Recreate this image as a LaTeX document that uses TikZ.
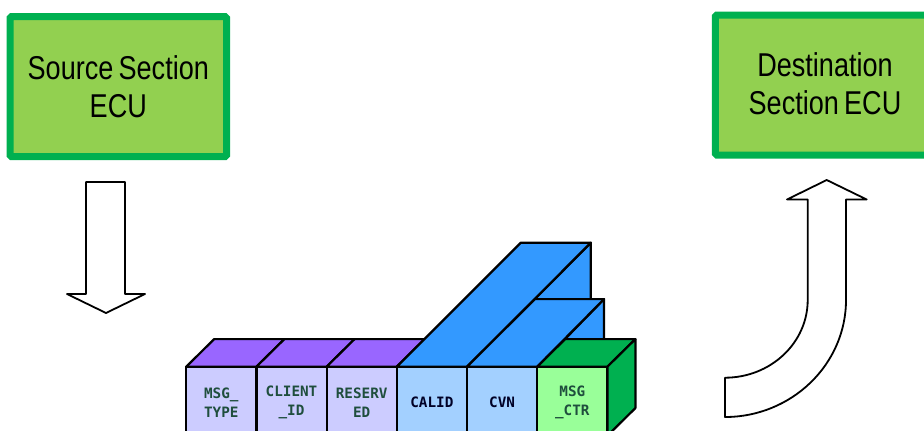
\documentclass[tikz,border=0pt]{standalone}
\usepackage{fontspec}
\usetikzlibrary{positioning}
\newfontfamily\boxfont[FakeStretch=0.82,WordSpace=0.7]{Liberation Sans}
\newfontfamily\cellfont{DejaVu Sans Mono}
\definecolor{ecufill}{HTML}{92D050}
\definecolor{ecuedge}{HTML}{00B050}
\definecolor{hdrfront}{HTML}{CCCCFF}
\definecolor{hdrtop}{HTML}{9966FF}
\definecolor{calfront}{HTML}{A3D0FF}
\definecolor{caltop}{HTML}{3399FF}
\definecolor{ctrfront}{HTML}{99FF99}
\definecolor{celltext}{HTML}{1F4E3D}
\begin{document}
\begin{tikzpicture}[x=1pt,y=-1pt,
ecu/.style={draw=ecuedge,fill=ecufill,line width=7pt,rounded corners=1.5pt,
    minimum height=140pt,align=center,text=black,
    font=\boxfont\fontsize{33}{37.5}\selectfont},
cell/.style={draw=black,line width=2.2pt,minimum width=70.2pt,minimum height=71.6pt,
    outer sep=0pt,inner sep=0pt,align=center,
    font=\cellfont\bfseries\fontsize{14.3}{19}\selectfont},
face/.style={draw=black,line width=2.2pt,line join=round},
blockarrow/.style={draw=black,fill=white,line width=1.8pt,line join=round}
]
\clip (0,0) rectangle (924,431);
\useasboundingbox (0,0) rectangle (924,431);

\node[ecu,minimum width=216.5pt] (source) at (118.3,86.6) {\raisebox{1.5pt}{Source Section}\\\raisebox{1pt}{ECU}};
\node[ecu,minimum width=219.5pt] (dest) at (825,85) {\raisebox{2.5pt}{Destination}\\\raisebox{2pt}{Section ECU}};

% hollow arrows
\draw[blockarrow] (86,182) -- (125,182) -- (125,294) -- (145,294) -- (106,313)
    -- (67,294) -- (86,294) -- cycle;
\draw[blockarrow] (826.7,180) -- (866.7,199.5) -- (846,199.5) -- (846,300)
    .. controls (846,364.5) and (791.5,417) .. (725,417)
    -- (725,377.7)
    .. controls (770.5,377.7) and (807.7,343) .. (807.7,300)
    -- (807.7,199.5) -- (787,199.5) -- cycle;

% message cells
\node[cell,fill=hdrfront,text=celltext] (msgtype) at (221.3,402.5) {MSG\_\\TYPE};
\node[cell,fill=hdrfront,text=celltext,right=0pt of msgtype] (clientid) {CLIENT\\\_ID};
\node[cell,fill=hdrfront,text=celltext,right=0pt of clientid] (reserved) {RESERV\\ED};
\node[cell,fill=calfront,text=black!85!blue,right=0pt of reserved] (calid) {CALID};
\node[cell,fill=calfront,text=black!85!blue,right=0pt of calid] (cvn) {CVN};
\node[cell,fill=ctrfront,text=celltext,right=0pt of cvn] (msgctr) {MSG\\\_CTR};

\foreach \c in {msgtype,clientid,reserved}
    \draw[face,fill=hdrtop] (\c.north west) -- ++(28,-27.6) -- ++(70.2,0)
        -- (\c.north east) -- cycle;

\draw[face,fill=caltop] (calid.north west) ++(194,-124) -- ++(0,56.4) -- ++(-56,0) -- cycle;
\draw[face,fill=caltop] (calid.north west) -- ++(124,-124) -- ++(70,0)
    -- (calid.north east) -- cycle;
\draw[face,fill=caltop] (cvn.north west) ++(137,-67.6) -- ++(0,40) -- ++(-39,0) -- cycle;
\draw[face,fill=caltop] (cvn.north west) -- ++(68,-67.6) -- ++(69,0)
    -- (cvn.north east) -- cycle;

\draw[face,fill=ecuedge] (msgctr.north west) -- ++(28,-27.6) -- ++(70.2,0)
    -- (msgctr.north east) -- cycle;
\draw[face,fill=ecuedge] (msgctr.north east) -- ++(28,-27.6) -- ++(0,69)
    -- ++(-28,27.6) -- cycle;
\end{tikzpicture}
\end{document}
